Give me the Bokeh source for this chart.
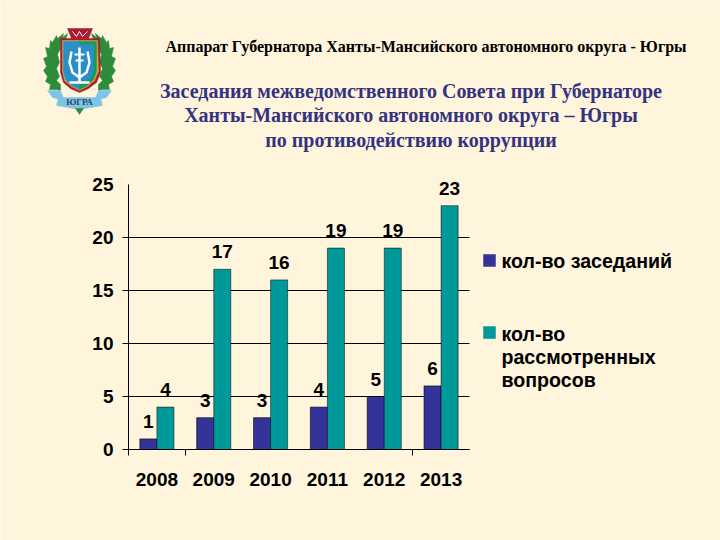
from bokeh.plotting import figure
from bokeh.core.properties import value
from bokeh.models import ColumnDataSource, Label, Range1d, LabelSet, FixedTicker
from bokeh.embed import file_html
from bokeh.resources import INLINE

years = ["2008", "2009", "2010", "2011", "2012", "2013"]
meetings = [1, 3, 3, 4, 5, 6]
questions = [4, 17, 16, 19, 19, 23]
y_ticks = [0, 5, 10, 15, 20, 25]
grid_values = [0, 5, 10, 15, 20]
header = "Аппарат Губернатора Ханты-Мансийского автономного округа - Югры"
title_lines = [
    "Заседания межведомственного Совета при Губернаторе",
    "Ханты-Мансийского автономного округа – Югры",
    "по противодействию коррупции",
]
legend_a = ["кол-во заседаний"]
legend_b = ["кол-во", "рассмотренных", "вопросов"]

BG = "#FFF4DC"
BLUE = "#333399"
TEAL = "#009999"
NAVY = "#333380"
SANS = "Liberation Sans"
SERIF = "Liberation Serif"

W, H = 720, 540
L, R, T, B = 128, 469, 184, 449
UX = (R - L) / 6
UY = (B - T) / 25


def X(px):
    return (px - L) / UX - 0.5


def Y(py):
    return (B - py) / UY


p = figure(width=W, height=H, output_backend="svg", toolbar_location=None,
           x_range=Range1d(X(0), X(W)), y_range=Range1d(Y(H), Y(0)),
           min_border=0, background_fill_color=BG, border_fill_color=BG, outline_line_color=None,
           margin=(0, 0, 0, 0))

p.xgrid.visible = False
p.ygrid.visible = False

p.yaxis.fixed_location = -0.5
p.yaxis.bounds = (0, 25)
p.yaxis.ticker = FixedTicker(ticks=y_ticks)
p.yaxis.axis_line_color = "black"
p.yaxis.major_tick_line_color = None
p.yaxis.major_tick_out = 6
p.yaxis.major_tick_in = 0
p.yaxis.minor_tick_line_color = None
p.yaxis.major_label_text_font = SANS
p.yaxis.major_label_text_font_size = "19px"
p.yaxis.major_label_text_font_style = "bold"
p.yaxis.major_label_text_color = "black"
p.yaxis.major_label_standoff = 9

p.xaxis.fixed_location = 0
p.xaxis.bounds = (-0.5, 5.5)
p.xaxis.ticker = FixedTicker(ticks=list(range(6)), minor_ticks=[-0.5, 0.5, 4.5])
p.xaxis.major_label_overrides = {i: y for i, y in enumerate(years)}
p.xaxis.axis_line_color = "black"
p.xaxis.major_tick_line_color = None
p.xaxis.minor_tick_line_color = "black"
p.xaxis.minor_tick_out = 6
p.xaxis.minor_tick_in = 0
p.xaxis.major_label_text_font = SANS
p.xaxis.major_label_text_font_size = "19px"
p.xaxis.major_label_text_font_style = "bold"
p.xaxis.major_label_text_color = "black"
p.xaxis.major_label_standoff = 17

p.segment(x0=[X(L - 6)] * len(grid_values), x1=[5.5] * len(grid_values), y0=grid_values, y1=grid_values,
          line_color="black", line_width=1)

x = list(range(6))
src = ColumnDataSource(dict(x=x, a=meetings, b=questions,
                            xa=[i - 0.15 for i in x], xb=[i + 0.15 for i in x],
                            la=[str(v) for v in meetings], lb=[str(v) for v in questions]))
p.vbar(x="xa", top="a", width=0.3, bottom=0, source=src, fill_color=BLUE, line_color="black",
       line_alpha=0.6, line_width=1)
p.vbar(x="xb", top="b", width=0.3, bottom=0, source=src, fill_color=TEAL, line_color="black",
       line_alpha=0.5, line_width=1)
for lx, lt, top in (("xa", "la", "a"), ("xb", "lb", "b")):
    p.add_layout(LabelSet(x=lx, y=top, text=lt, source=src, y_offset=11, text_align="center",
                          text_baseline="bottom", text_font=value(SANS), text_font_size=value("19px"),
                          text_font_style=value("bold"), text_color=value("black")))


def txt(s, px, py, size, font, color="black", align="center"):
    p.add_layout(Label(x=X(px), y=Y(py), text=s, text_font=font,
                       text_font_size=size, text_font_style="bold", text_color=color,
                       text_align=align, text_baseline="middle"))


def poly(pts, fill):
    p.patch([X(a) for a, _ in pts], [Y(b) for _, b in pts], fill_color=fill, line_color=fill, line_width=0.5)


def stroke(pts, color, lw):
    p.line([X(a) for a, _ in pts], [Y(b) for _, b in pts], line_color=color, line_width=lw)


txt(header, 425.5, 46, "16px", SERIF)
for s, cy in zip(title_lines, (90, 114, 139)):
    txt(s, 410.5, cy, "20px", SERIF, NAVY)
txt(legend_a[0], 501, 260, "19.6px", SANS, align="left")
for s, cy in zip(legend_b, (333, 356, 379)):
    txt(s, 501, cy, "19.6px", SANS, align="left")

poly([(483, 254), (495, 254), (495, 266), (483, 266)], BLUE)
poly([(483, 326), (495, 326), (495, 338), (483, 338)], TEAL)

# coat of arms
GREEN = "#2E8B3A"
wreath = [(67, 33), (62, 37), (63, 33), (57, 38), (56, 35), (52, 42), (50, 40), (49, 48), (45, 47), (47, 56),
          (43, 58), (46, 66), (43, 70), (47, 76), (45, 81), (50, 84), (49, 89), (56, 89), (60, 90),
          (60, 84), (56, 80), (59, 76), (56, 68), (59, 62), (57, 54), (60, 48), (60, 42), (66, 37)]
poly(wreath, GREEN)
poly([(158 - a, b) for a, b in wreath], GREEN)
poly([(60, 38), (99, 38), (100, 72), (96, 82), (88, 88), (79, 92), (70, 88), (63, 82), (60, 72)], "#A81A30")
poly([(62, 40), (97, 40), (98, 71), (94, 80), (87, 86), (79, 90), (71, 86), (64, 80), (62, 71)], "#C8B040")
poly([(63, 41), (79, 41), (79, 89), (71, 85), (65, 79), (63, 71)], "#2A8FC8")
poly([(79, 41), (96, 41), (96, 71), (93, 79), (87, 85), (79, 89)], "#1B9A55")
poly([(66, 44), (93, 44), (93, 70), (90, 78), (79, 82), (68, 78), (66, 70)], "#2A8FC8")
stroke([(71, 51), (69, 62), (72, 72), (79, 77), (86, 72), (89, 62), (87, 51)], "white", 2.5)
stroke([(79, 47), (79, 82)], "white", 2.5)
stroke([(69, 82), (89, 82)], "white", 2.5)
stroke([(74, 54), (84, 54)], "white", 2)
stroke([(75, 60), (83, 60)], "white", 2)
poly([(67, 28), (92, 28), (88, 38), (71, 38)], "#A81A30")
stroke([(72, 31), (76, 36), (79, 31), (82, 36), (87, 31)], "white", 1)
poly([(47, 90), (60, 90), (64, 100), (52, 97)], "#7CC4E8")
poly([(111, 90), (98, 90), (94, 100), (106, 97)], "#7CC4E8")
poly([(58, 97), (100, 97), (102, 105), (79, 109), (56, 105)], "#7CC4E8")
poly([(75, 108), (83, 108), (79, 114)], GREEN)
txt("ЮГРА", 79, 101, "9px", SERIF, "#334455")

open("out.html", "w").write(file_html(p, INLINE))
